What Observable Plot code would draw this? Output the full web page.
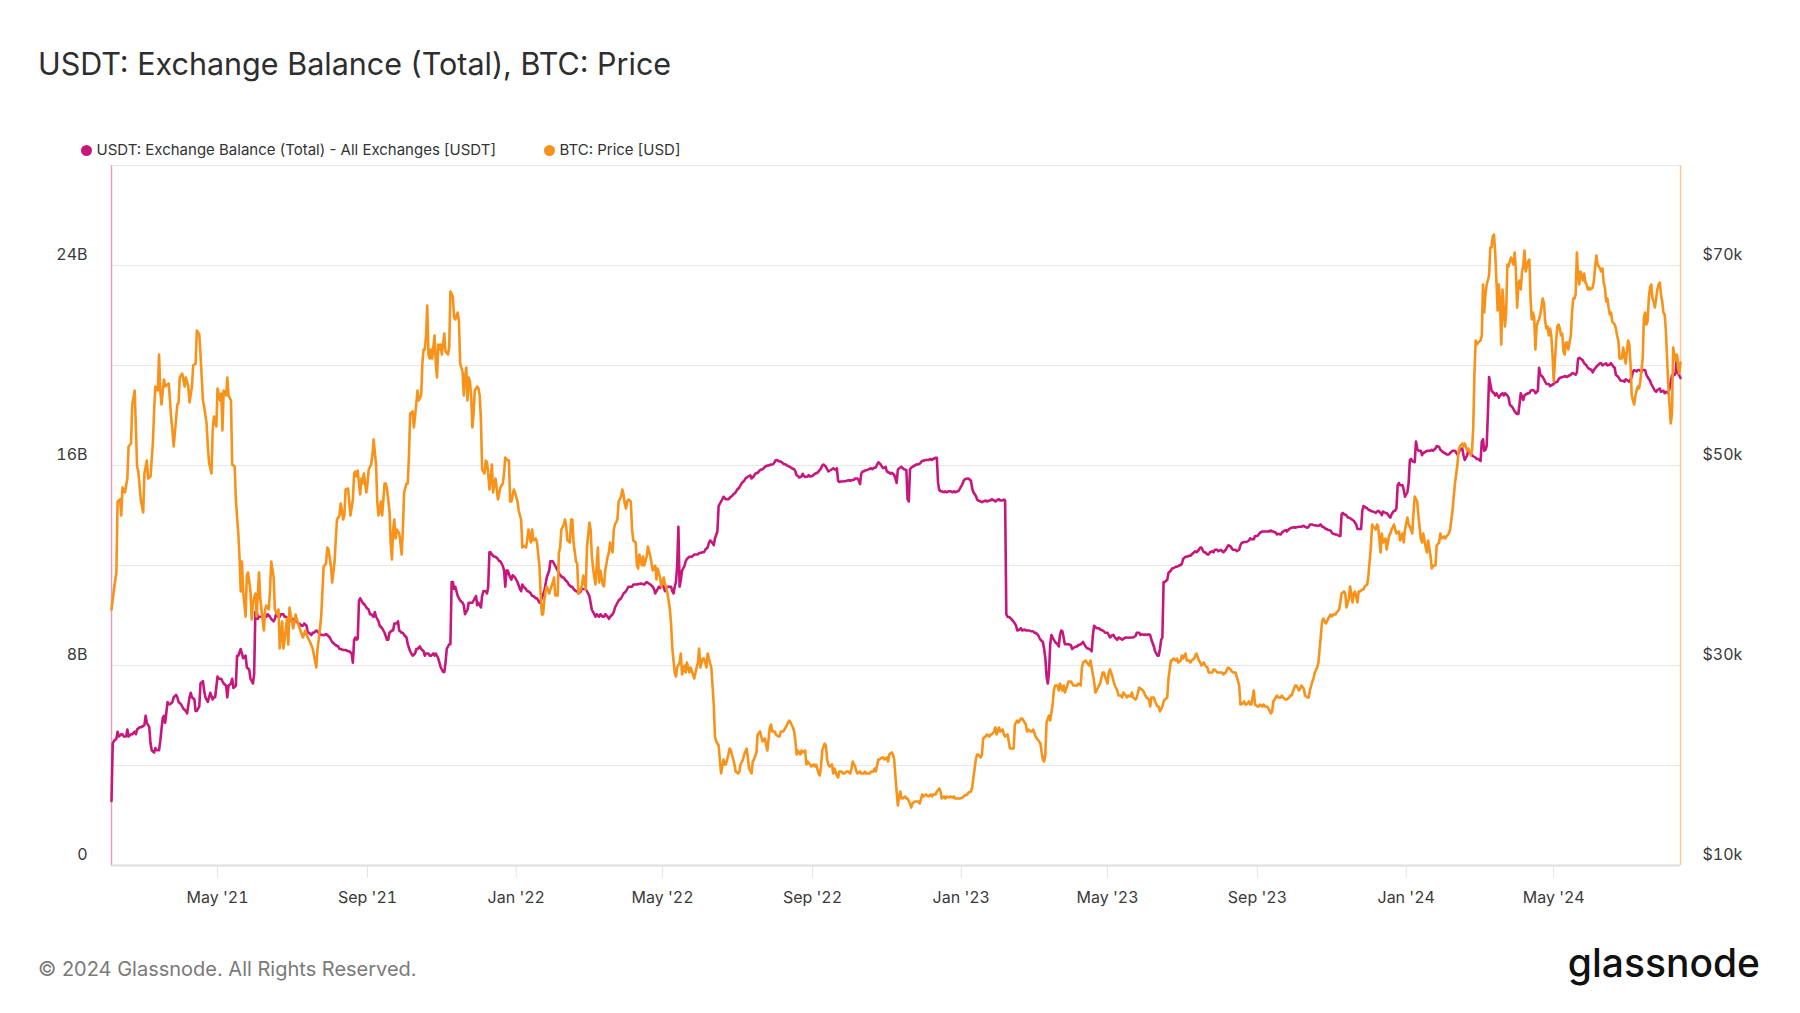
<!DOCTYPE html>
<html>
<head>
<meta charset="utf-8">
<script src="https://cdn.jsdelivr.net/npm/d3@7"></script>
<script src="https://cdn.jsdelivr.net/npm/@observablehq/plot@0.6"></script>
<style>
  html, body { margin: 0; padding: 0; background: #ffffff; }
  #page { position: relative; width: 1800px; height: 1013px; overflow: hidden; font-family: Inter, "Noto Sans", sans-serif; background: #fff; }
  #title { position: absolute; left: 38px; top: 45px; font-size: 30.5px; line-height: 38px; color: #2e2e2e; font-weight: 400; white-space: nowrap; }
  .legend-item { position: absolute; top: 140px; height: 20px; line-height: 20px; font-size: 15px; color: #333; white-space: nowrap; }
  .legend-item .dot { position: absolute; left: 0; top: 4.5px; width: 11px; height: 11px; border-radius: 50%; }
  .legend-item .label { position: absolute; left: 16px; top: 0; }
  #chart { position: absolute; left: 0; top: 130px; }
  #footer { position: absolute; left: 38px; top: 956px; font-size: 20px; line-height: 26px; color: #7a7a7a; white-space: nowrap; }
  #logo { position: absolute; right: 40px; top: 938px; font-size: 39px; line-height: 50px; font-weight: 500; color: #111; letter-spacing: 0px; white-space: nowrap; }
</style>
</head>
<body>
<div id="page">
  <div id="title"></div>
  <div id="legend"></div>
  <div id="chart"></div>
  <div id="footer"></div>
  <div id="logo"></div>
</div>
<script>
// ---------------- data ----------------
const titleText = "USDT: Exchange Balance (Total), BTC: Price";
const seriesNames = ["USDT: Exchange Balance (Total) - All Exchanges [USDT]", "BTC: Price [USD]"];
const seriesColors = ["#c5177c", "#f7931a"];
const footerText = "© 2024 Glassnode. All Rights Reserved.";
const logoText = "glassnode";

const startDate = "2021-02-03";   // day 0
const endDay = 1287;              // 2024-08-13

// [days since startDate, USDT exchange balance in billions]
const usdtSeries = [[0,2.58],[1,4.88],[2,4.98],[4,5.07],[5,5.35],[6,5.16],[8,5.25],[9,5.25],[10,5.16],[12,5.16],[13,5.44],[14,5.16],[16,5.25],[17,5.25],[19,5.35],[20,5.25],[21,5.44],[23,5.53],[24,5.53],[26,5.58],[27,5.62],[28,5.99],[29,5.71],[31,5.53],[32,4.88],[33,4.61],[35,4.52],[36,4.70],[37,4.61],[39,4.61],[40,4.98],[42,5.90],[43,5.99],[44,5.71],[46,6.54],[47,6.45],[48,6.45],[50,6.54],[51,6.73],[53,6.82],[54,6.73],[55,6.54],[57,6.45],[58,6.36],[59,6.27],[61,6.18],[62,6.08],[64,6.73],[65,6.91],[66,6.73],[68,6.64],[69,6.18],[70,6.18],[72,6.36],[73,7.28],[75,7.37],[76,7.00],[77,6.73],[79,6.54],[80,6.73],[81,6.91],[83,6.64],[84,6.73],[85,6.73],[87,7.56],[88,7.47],[90,7.47],[91,7.37],[92,7.28],[94,7.19],[95,6.73],[96,7.19],[98,7.28],[99,7.47],[100,7.10],[102,7.19],[103,8.39],[104,8.39],[106,8.66],[107,8.48],[108,8.29],[110,8.39],[111,7.93],[113,7.83],[114,7.47],[116,7.28],[117,7.65],[118,10.14],[119,10.23],[120,9.86],[121,9.95],[123,9.95],[124,9.95],[126,10.05],[127,9.95],[128,10.05],[130,9.95],[131,9.86],[133,9.77],[134,9.86],[135,10.05],[137,9.95],[138,9.95],[139,10.05],[141,10.05],[142,9.95],[143,9.95],[145,9.86],[146,9.77],[147,9.86],[149,9.86],[150,9.77],[152,9.77],[153,9.68],[154,9.68],[156,9.59],[157,9.59],[158,9.68],[160,9.59],[161,9.31],[162,9.31],[164,9.22],[165,9.31],[166,9.31],[168,9.40],[169,9.36],[170,9.31],[172,9.22],[173,9.22],[175,9.22],[176,9.26],[177,9.22],[179,9.12],[180,9.03],[181,8.94],[183,8.85],[184,8.81],[186,8.76],[187,8.66],[188,8.66],[190,8.62],[191,8.62],[192,8.62],[194,8.57],[195,8.57],[197,8.48],[198,8.11],[199,9.03],[200,9.12],[201,9.03],[202,9.08],[203,10.60],[204,10.69],[205,10.60],[206,10.51],[208,10.41],[209,10.32],[211,10.23],[212,10.05],[213,10.05],[215,9.95],[216,10.14],[217,9.95],[219,9.77],[220,9.59],[222,9.49],[223,9.40],[224,9.31],[226,9.03],[227,9.03],[228,9.31],[230,9.40],[231,9.40],[232,9.68],[234,9.68],[235,9.77],[236,9.40],[238,9.31],[239,9.31],[240,9.22],[242,9.12],[243,8.85],[245,8.57],[246,8.48],[247,8.39],[249,8.48],[250,8.66],[251,8.66],[253,8.76],[254,8.66],[256,8.57],[257,8.39],[258,8.48],[260,8.48],[261,8.39],[262,8.39],[264,8.48],[265,8.39],[266,8.48],[268,8.29],[269,8.11],[270,7.93],[272,7.74],[273,7.74],[274,8.11],[275,8.66],[277,8.85],[278,8.85],[279,11.34],[280,11.34],[281,11.06],[282,11.15],[284,10.78],[285,10.69],[286,10.60],[288,10.51],[289,10.41],[290,10.05],[292,10.23],[293,10.51],[294,10.51],[296,10.51],[297,10.60],[299,10.78],[300,10.41],[301,10.51],[303,10.32],[304,10.78],[305,10.97],[307,10.97],[308,10.88],[309,11.15],[310,12.53],[311,12.53],[312,12.44],[314,12.35],[315,12.35],[317,12.26],[318,12.17],[319,12.17],[321,11.98],[322,11.80],[323,11.15],[324,11.80],[325,11.80],[327,11.52],[328,11.43],[329,11.61],[331,11.52],[332,11.43],[333,11.34],[335,11.06],[336,10.97],
[337,11.24],[338,11.15],[340,11.06],[341,10.97],[342,10.97],[344,10.88],[345,10.78],[346,10.78],[348,10.69],[349,10.69],[351,10.51],[352,10.60],[353,10.69],[355,10.97],[356,11.24],[357,11.52],[359,11.80],[360,12.17],[362,12.17],[363,12.07],[364,11.98],[366,11.80],[367,11.70],[368,11.61],[370,11.52],[371,11.52],[372,11.43],[374,11.34],[375,11.24],[377,11.15],[378,11.15],[379,11.06],[381,10.97],[382,10.97],[383,10.88],[385,10.97],[386,11.06],[387,11.06],[389,11.06],[390,10.97],[392,10.78],[393,10.51],[394,10.23],[396,10.05],[397,9.95],[398,10.05],[400,9.95],[401,10.05],[403,9.95],[404,9.95],[405,10.05],[407,9.95],[408,9.86],[409,9.95],[411,10.05],[412,10.14],[413,10.32],[415,10.51],[416,10.60],[418,10.69],[419,10.78],[420,10.88],[422,10.97],[423,11.06],[424,11.15],[426,11.15],[427,11.15],[428,11.24],[431,11.24],[434,11.28],[437,11.24],[439,11.34],[442,11.24],[444,11.15],[445,11.06],[446,10.88],[447,10.97],[448,11.06],[449,11.15],[450,11.10],[452,11.21],[453,11.15],[454,10.97],[456,11.15],[457,11.15],[459,11.15],[460,10.97],[461,10.88],[462,11.15],[463,11.34],[464,11.98],[465,13.55],[466,11.15],[467,11.43],[468,11.80],[470,11.98],[471,12.17],[472,12.26],[474,12.35],[475,12.35],[476,12.35],[478,12.44],[479,12.44],[481,12.44],[482,12.50],[483,12.50],[485,12.53],[486,12.53],[487,12.63],[489,12.72],[490,12.90],[491,13.00],[493,12.90],[494,12.81],[495,13.09],[497,13.36],[498,14.38],[500,14.56],[501,14.65],[502,14.75],[504,14.65],[505,14.65],[506,14.65],[508,14.75],[509,14.78],[510,14.84],[512,14.93],[513,15.02],[515,15.12],[516,15.21],[517,15.30],[519,15.39],[520,15.48],[521,15.52],[523,15.58],[524,15.61],[525,15.48],[527,15.58],[528,15.67],[530,15.71],[531,15.76],[532,15.82],[534,15.85],[535,15.89],[536,15.95],[538,16.00],[539,16.00],[541,16.04],[542,16.04],[543,16.07],[545,16.22],[546,16.22],[547,16.18],[549,16.15],[550,16.13],[551,16.07],[553,16.04],[554,16.00],[556,15.96],[557,15.93],[558,15.89],[560,15.85],[561,15.76],[562,15.61],[563,15.58],[564,15.52],[566,15.56],[567,15.67],[568,15.58],[569,15.54],[571,15.56],[572,15.61],[573,15.56],[575,15.58],[576,15.63],[577,15.67],[579,15.71],[580,15.76],[582,15.89],[583,16.00],[584,16.04],[586,15.95],[587,15.85],[588,15.76],[590,15.82],[591,15.85],[592,15.89],[594,15.82],[595,15.89],[596,15.39],[597,15.34],[598,15.36],[599,15.36],[601,15.37],[602,15.37],[603,15.39],[605,15.41],[606,15.39],[607,15.41],[609,15.43],[610,15.48],[612,15.48],[613,15.39],[614,15.26],[615,15.67],[616,15.76],[617,15.76],[618,15.80],[620,15.82],[621,15.85],[623,15.89],[624,15.85],[625,15.89],[627,15.93],[628,16.04],[629,16.13],[631,16.04],[632,15.95],[633,15.89],[635,15.95],[636,15.76],[638,15.71],[639,15.67],[640,15.71],[642,15.63],[643,15.48],[644,15.30],[645,15.82],[646,15.89],[648,15.95],[649,15.89],[650,15.85],[652,15.82],[653,14.65],[654,14.56],[655,15.85],[656,15.91],[657,15.95],[659,16.00],[660,16.04],[661,16.04],[663,16.07],
[665,16.19],[666,16.19],[668,16.22],[669,16.22],[670,16.22],[672,16.26],[673,16.22],[674,16.26],[676,16.31],[677,16.31],[678,15.30],[679,15.02],[680,14.97],[681,14.97],[683,14.93],[684,14.97],[685,14.93],[687,14.97],[688,14.97],[690,14.93],[691,14.97],[692,14.93],[694,14.97],[695,14.99],[696,15.08],[698,15.26],[699,15.39],[700,15.45],[702,15.48],[703,15.48],[705,15.39],[706,15.08],[707,14.93],[709,14.78],[710,14.65],[711,14.60],[713,14.56],[714,14.53],[715,14.56],[717,14.60],[718,14.56],[720,14.60],[721,14.60],[722,14.65],[724,14.60],[725,14.56],[726,14.60],[728,14.65],[729,14.60],[731,14.60],[732,14.64],[733,14.60],[734,10.05],[735,9.95],[737,9.92],[738,9.86],[739,9.81],[741,9.68],[742,9.59],[743,9.40],[745,9.44],[746,9.49],[747,9.40],[749,9.44],[750,9.40],[752,9.40],[753,9.40],[754,9.37],[756,9.37],[757,9.31],[758,9.31],[760,9.22],[761,9.12],[762,9.03],[764,8.94],[765,8.66],[766,8.29],[767,7.56],[768,7.28],[769,7.74],[770,8.85],[771,9.22],[772,9.12],[773,9.03],[774,8.94],[776,8.85],[777,8.76],[778,9.22],[779,9.40],[780,9.37],[781,9.12],[782,8.85],[784,8.85],[785,8.85],[787,8.81],[788,8.66],[789,8.70],[791,8.76],[792,8.76],[793,8.81],[795,8.85],[796,8.89],[797,8.94],[799,8.76],[800,8.70],[802,8.66],[803,8.63],[804,8.57],[805,9.22],[806,9.59],[807,9.55],[808,9.49],[810,9.49],[811,9.44],[813,9.40],[814,9.37],[815,9.31],[817,9.31],[818,9.22],[819,9.12],[821,9.22],[822,9.22],[823,9.12],[825,9.03],[826,9.12],[828,9.07],[829,9.03],[830,9.07],[832,9.12],[833,9.12],[834,9.11],[836,9.12],[837,9.12],[838,9.12],[840,9.18],[841,9.31],[843,9.31],[844,9.22],[845,9.25],[847,9.22],[848,9.25],[849,9.22],[851,9.25],[852,9.22],[853,9.03],[855,8.76],[856,8.57],[858,8.39],[859,8.39],[860,8.66],[861,9.03],[862,9.12],[863,11.34],[864,11.34],[866,11.43],[867,11.70],[869,11.80],[870,11.89],[871,11.89],[873,11.95],[874,11.95],[875,11.98],[877,12.02],[878,12.07],[879,12.26],[881,12.35],[882,12.35],[884,12.39],[885,12.39],[886,12.44],[888,12.53],[889,12.57],[890,12.53],[892,12.63],[893,12.72],[894,12.72],[896,12.53],[897,12.53],[899,12.44],[900,12.44],[901,12.53],[903,12.57],[904,12.53],[905,12.63],[907,12.63],[908,12.57],[910,12.63],[911,12.57],[912,12.53],[914,12.63],[915,12.72],[916,12.81],[918,12.76],[919,12.68],[920,12.63],[922,12.63],[923,12.57],[925,12.63],[926,12.81],[927,12.90],[929,12.94],[930,12.94],[931,12.94],[933,13.00],[934,13.09],[935,13.05],[937,13.05],[938,13.18],[940,13.18],[941,13.24],[942,13.31],[944,13.36],[945,13.36],[946,13.36],[948,13.36],[949,13.36],[951,13.40],[952,13.36],[953,13.36],[955,13.31],[956,13.24],[957,13.27],[959,13.24],[960,13.31],[961,13.36],[963,13.42],[964,13.36],[966,13.46],[967,13.49],[968,13.51],[970,13.53],[971,13.51],[972,13.53],[974,13.55],[975,13.55],[976,13.55],[978,13.59],[979,13.55],[981,13.51],[982,13.55],[983,13.64],[985,13.64],[986,13.61],[987,13.61],[989,13.59],[990,13.59],[992,13.64],
[993,13.55],[994,13.55],[996,13.46],[997,13.46],[998,13.42],[1000,13.40],[1001,13.31],[1002,13.27],[1004,13.24],[1005,13.24],[1007,13.18],[1008,13.18],[1009,14.05],[1010,14.10],[1011,14.05],[1013,14.01],[1014,13.92],[1015,13.92],[1017,13.86],[1018,13.82],[1019,13.79],[1021,13.64],[1022,13.46],[1024,13.46],[1025,13.46],[1026,14.19],[1027,14.38],[1028,14.34],[1030,14.29],[1031,14.23],[1033,14.19],[1034,14.16],[1035,14.16],[1037,14.10],[1038,14.16],[1039,14.19],[1041,14.10],[1042,14.01],[1043,14.16],[1045,14.10],[1046,14.10],[1048,13.97],[1049,13.92],[1050,14.05],[1052,14.19],[1053,14.19],[1054,14.29],[1055,15.21],[1056,15.30],[1057,15.21],[1059,15.21],[1060,15.02],[1061,14.75],[1063,14.93],[1064,15.30],[1065,16.22],[1066,16.26],[1067,16.18],[1069,16.13],[1070,16.96],[1071,16.68],[1072,16.59],[1074,16.59],[1075,16.41],[1076,16.50],[1078,16.55],[1079,16.59],[1080,16.59],[1082,16.59],[1083,16.63],[1084,16.59],[1086,16.68],[1087,16.78],[1089,16.74],[1090,16.63],[1091,16.59],[1093,16.50],[1094,16.50],[1095,16.44],[1097,16.44],[1098,16.50],[1100,16.59],[1101,16.59],[1102,16.59],[1104,16.44],[1105,16.50],[1106,16.63],[1108,16.68],[1109,16.41],[1110,16.22],[1112,16.41],[1113,16.59],[1115,16.50],[1116,16.41],[1117,16.37],[1119,16.31],[1120,16.26],[1121,16.26],[1123,16.18],[1124,16.96],[1125,17.05],[1126,16.59],[1127,16.63],[1128,16.78],[1129,18.06],[1130,19.54],[1131,19.26],[1132,18.99],[1134,18.89],[1135,18.80],[1136,18.89],[1138,18.71],[1139,18.80],[1141,18.89],[1142,18.80],[1143,18.89],[1145,18.80],[1146,18.71],[1147,18.43],[1149,18.34],[1150,18.25],[1151,18.16],[1153,18.06],[1154,18.06],[1156,18.89],[1158,18.62],[1159,18.80],[1160,18.84],[1162,18.89],[1163,18.89],[1164,18.99],[1166,19.02],[1167,18.99],[1168,18.89],[1170,18.99],[1171,19.91],[1172,19.63],[1174,19.54],[1175,19.45],[1176,19.35],[1177,19.26],[1179,19.26],[1180,19.17],[1181,19.21],[1183,19.26],[1184,19.32],[1186,19.35],[1187,19.45],[1188,19.50],[1190,19.54],[1191,19.54],[1192,19.58],[1194,19.54],[1195,19.58],[1197,19.63],[1198,19.69],[1199,19.69],[1201,19.63],[1202,19.72],[1203,20.28],[1204,20.31],[1206,20.24],[1207,20.19],[1208,20.09],[1210,20.00],[1211,19.91],[1212,19.87],[1214,19.82],[1215,19.72],[1216,19.82],[1218,19.95],[1219,20.00],[1221,20.09],[1222,20.09],[1223,20.00],[1225,20.06],[1226,20.09],[1227,20.00],[1229,20.04],[1230,20.09],[1232,19.95],[1233,19.91],[1234,19.63],[1236,19.54],[1237,19.45],[1238,19.39],[1240,19.39],[1241,19.35],[1242,19.45],[1244,19.39],[1245,19.35],[1247,19.54],[1248,19.76],[1249,19.82],[1251,19.76],[1252,19.82],[1253,19.82],[1255,19.76],[1256,19.82],[1258,19.82],[1259,19.63],[1260,19.54],[1262,19.39],[1263,19.26],[1264,19.17],[1266,18.99],[1267,18.95],[1268,19.02],[1270,19.08],[1271,18.95],[1273,18.99],[1274,18.89],[1275,18.95],[1277,18.89],[1278,19.08],[1279,19.35],[1280,19.60],[1282,19.62],[1283,19.70],[1284,20.40],[1285,19.70],[1286,19.60],[1287,19.50]];

// [days since startDate, BTC price in thousands of USD]
const btcSeries = [[0,35.6],[2,37.6],[4,39.3],[5,46.4],[7,46.6],[8,45.0],[9,47.8],[11,47.3],[13,48.7],[14,51.9],[16,52.2],[17,56.1],[19,57.5],[20,53.8],[21,49.9],[22,49.4],[24,46.6],[26,45.3],[27,49.2],[29,50.5],[30,48.7],[32,48.9],[34,52.4],[35,55.6],[36,57.9],[38,57.5],[39,61.1],[40,57.5],[41,56.1],[43,58.6],[44,57.9],[47,58.2],[49,54.7],[50,53.5],[51,51.9],[53,54.7],[54,56.1],[55,56.3],[56,58.8],[58,59.2],[60,57.9],[61,58.8],[63,57.9],[64,56.3],[66,57.9],[67,60.0],[69,60.2],[70,63.5],[72,63.1],[73,61.1],[75,56.5],[76,55.9],[78,54.2],[79,51.9],[80,50.3],[82,49.2],[83,53.5],[84,54.9],[86,53.9],[87,57.7],[89,56.5],[90,57.2],[91,53.5],[92,57.5],[94,57.0],[95,58.8],[96,57.0],[98,56.5],[99,50.1],[101,49.9],[102,46.6],[104,43.2],[105,40.9],[106,37.4],[107,40.4],[108,37.4],[110,34.9],[111,39.0],[112,39.3],[114,37.4],[115,34.6],[116,36.3],[118,37.2],[119,34.9],[121,39.3],[122,36.7],[123,35.6],[125,33.5],[126,35.6],[127,36.0],[129,35.6],[130,37.4],[131,40.4],[133,38.8],[134,35.6],[136,35.1],[137,35.6],[138,31.7],[140,34.4],[141,31.7],[142,32.6],[144,34.7],[145,32.1],[146,35.8],[148,34.4],[149,33.7],[151,35.1],[153,34.2],[155,33.5],[157,32.8],[159,33.5],[161,32.8],[163,32.3],[165,31.7],[168,29.8],[169,31.7],[170,32.6],[172,34.9],[173,37.4],[174,39.9],[176,40.2],[177,41.8],[178,41.6],[180,39.9],[181,38.3],[183,40.4],[184,42.7],[185,44.6],[187,45.0],[188,46.2],[189,45.5],[190,44.6],[191,45.0],[192,47.6],[194,47.7],[195,46.4],[196,45.0],[198,46.6],[199,49.2],[200,49.4],[201,48.9],[202,49.5],[203,48.2],[204,47.1],[205,48.7],[206,48.2],[207,49.2],[209,47.3],[210,48.2],[211,49.6],[213,50.1],[214,51.0],[215,52.6],[217,50.1],[218,46.4],[219,45.0],[220,45.5],[221,46.4],[222,45.0],[224,48.2],[225,48.2],[226,47.6],[228,45.5],[229,42.3],[230,40.6],[231,43.6],[232,44.6],[233,42.7],[234,43.6],[236,43.2],[237,42.3],[238,41.1],[239,43.6],[240,47.3],[242,48.2],[243,48.2],[244,51.0],[245,55.2],[247,55.4],[248,53.8],[249,54.9],[251,57.5],[252,56.5],[254,57.0],[255,60.2],[256,61.6],[257,61.6],[258,63.0],[259,66.0],[260,61.1],[261,60.7],[262,61.6],[263,60.7],[265,63.0],[266,60.2],[267,58.8],[268,62.1],[269,61.6],[270,62.1],[271,61.1],[273,63.2],[274,61.4],[276,61.1],[277,61.8],[278,67.4],[280,66.9],[281,64.8],[282,64.6],[284,65.3],[285,64.4],[286,60.2],[288,59.3],[289,57.0],[290,58.8],[291,59.8],[292,56.5],[293,58.8],[294,58.4],[295,57.0],[296,53.8],[297,55.2],[298,57.5],[300,57.9],[301,57.7],[302,57.0],[303,54.7],[304,49.6],[306,49.2],[307,50.5],[308,50.3],[309,49.2],[310,47.6],[311,48.7],[312,50.1],[313,47.3],[314,48.2],[315,48.7],[317,46.6],[319,47.8],[321,48.2],[322,49.2],[323,50.8],[325,50.5],[326,50.5],[327,46.4],[328,46.4],[330,47.6],[331,47.3],[333,46.4],[334,45.5],[336,44.6],
[337,41.8],[338,42.0],[340,41.8],[341,42.5],[342,43.6],[344,42.3],[345,43.6],[346,42.5],[348,42.7],[349,42.3],[351,40.0],[352,37.2],[353,35.1],[354,35.1],[355,36.5],[356,37.4],[357,37.9],[359,37.2],[360,37.6],[362,38.3],[363,38.8],[364,37.0],[366,37.0],[367,41.3],[368,41.8],[369,43.6],[371,44.1],[372,44.6],[373,43.9],[374,42.5],[376,42.3],[377,44.6],[378,44.6],[379,42.3],[381,40.4],[382,40.2],[383,37.2],[385,37.6],[386,38.1],[387,39.0],[389,37.6],[390,41.8],[392,44.3],[393,43.6],[394,40.9],[396,38.8],[397,38.1],[398,40.0],[399,41.8],[400,38.3],[401,39.5],[403,38.1],[404,37.9],[405,39.5],[407,40.9],[408,41.3],[409,42.3],[411,41.3],[412,43.6],[413,44.1],[415,44.6],[416,46.4],[418,46.9],[419,47.6],[420,47.1],[421,46.2],[422,45.7],[423,46.4],[424,46.6],[426,46.4],[427,43.6],[428,42.5],[430,42.3],[431,40.0],[432,39.7],[433,41.1],[435,40.0],[436,40.9],[437,40.0],[439,40.9],[440,41.9],[442,40.9],[443,40.2],[444,39.5],[446,40.0],[447,38.6],[448,39.7],[450,38.8],[451,37.9],[453,38.8],[454,38.1],[455,37.9],[457,36.5],[458,35.6],[459,34.2],[460,31.7],[462,29.3],[463,28.9],[464,29.8],[466,30.3],[467,31.2],[468,29.1],[470,30.0],[471,29.3],[472,30.3],[474,29.3],[475,29.8],[477,29.1],[478,28.7],[479,29.3],[481,30.3],[482,31.7],[483,29.8],[485,30.7],[486,30.7],[488,29.8],[489,31.2],[490,30.7],[492,29.8],[493,28.0],[494,26.1],[495,22.9],[496,22.4],[498,22.0],[499,20.6],[500,19.2],[502,20.6],[503,20.1],[504,20.1],[506,21.1],[507,21.7],[508,21.5],[510,20.6],[511,20.1],[512,19.4],[514,19.2],[515,19.4],[516,20.1],[518,20.6],[519,21.1],[521,21.7],[522,20.8],[523,19.7],[525,19.2],[526,20.4],[527,20.6],[529,21.3],[530,23.1],[532,23.4],[533,22.9],[534,22.4],[536,22.7],[537,22.0],[538,21.5],[540,23.8],[541,24.1],[542,23.4],[544,23.4],[545,23.1],[547,22.9],[548,22.9],[549,23.4],[551,23.4],[552,23.6],[553,23.8],[555,24.3],[556,24.5],[557,24.3],[559,23.8],[560,23.4],[561,22.4],[562,21.1],[563,21.5],[565,21.1],[566,21.5],[567,21.3],[569,21.5],[570,20.1],[571,20.4],[573,20.1],[574,19.9],[576,20.1],[577,19.9],[578,20.1],[580,19.2],[581,19.0],[582,19.9],[583,21.5],[585,22.2],[586,22.0],[587,20.6],[588,20.1],[589,19.9],[591,20.1],[592,19.2],[593,19.7],[595,19.0],[596,18.8],[597,19.4],[599,19.4],[600,19.2],[601,19.2],[603,19.4],[604,19.4],[606,19.2],[607,19.7],[608,20.4],[610,19.9],[611,19.4],[612,19.2],[614,19.4],[615,19.2],[617,19.2],[618,19.4],[619,19.2],[621,19.2],[622,19.2],[623,19.4],[625,19.4],[626,19.7],[627,19.4],[629,20.6],[630,20.6],[632,20.8],[633,20.8],[634,20.6],[636,20.8],[637,20.4],[638,21.1],[640,21.3],[641,21.1],[642,20.6],[644,17.4],[645,16.0],[646,16.9],[647,17.4],[648,16.7],[649,16.7],[651,16.9],[652,16.7],[653,16.7],[655,16.2],[656,15.8],[657,16.2],[659,16.4],[660,16.4],[662,16.4],[663,16.2],
[665,17.1],[666,16.9],[668,17.1],[669,17.0],[670,16.9],[672,17.1],[673,16.9],[674,17.1],[676,17.1],[677,17.4],[679,17.7],[680,17.4],[681,16.7],[683,16.9],[684,16.7],[685,16.9],[687,16.8],[688,16.9],[690,16.8],[691,16.9],[692,16.7],[694,16.7],[695,16.7],[696,16.7],[698,16.8],[699,16.9],[700,17.0],[702,17.1],[703,17.3],[705,17.4],[706,17.8],[707,18.8],[709,20.6],[710,21.1],[711,21.1],[713,20.8],[714,21.1],[715,22.7],[717,22.9],[718,23.1],[720,22.9],[721,23.1],[722,23.1],[724,23.4],[725,23.8],[726,23.1],[728,23.8],[729,23.4],[731,23.6],[732,23.1],[733,22.9],[735,23.1],[736,22.4],[737,21.7],[739,21.7],[740,21.7],[741,24.1],[743,24.5],[744,24.3],[746,24.7],[747,24.7],[748,24.5],[750,24.1],[751,23.4],[752,23.6],[754,23.4],[755,23.4],[756,23.6],[758,22.9],[759,22.7],[761,22.4],[762,22.2],[763,21.3],[764,20.6],[765,20.4],[766,21.1],[767,24.3],[769,25.0],[770,24.5],[772,26.1],[773,27.5],[774,28.0],[776,28.0],[777,27.5],[778,28.2],[780,27.5],[781,28.0],[782,27.3],[784,28.0],[785,28.4],[787,28.4],[788,28.2],[789,28.0],[791,28.0],[792,28.0],[793,28.2],[795,28.0],[796,29.8],[797,30.3],[799,30.5],[800,30.3],[802,30.0],[803,30.5],[804,29.8],[806,28.4],[807,27.3],[808,27.5],[810,28.0],[811,28.2],[813,29.3],[814,29.3],[815,28.9],[817,28.2],[818,29.3],[819,29.6],[821,28.9],[822,28.4],[823,28.0],[825,27.5],[826,27.0],[828,27.0],[829,26.8],[830,27.3],[832,27.0],[833,26.8],[834,27.0],[836,26.9],[837,27.3],[838,26.8],[840,26.6],[841,26.8],[843,27.8],[844,27.7],[846,27.5],[847,27.3],[848,27.0],[849,26.8],[851,26.6],[852,25.9],[853,26.8],[854,26.8],[855,26.8],[856,26.4],[858,25.9],[859,25.9],[860,25.4],[862,25.9],[863,26.4],[864,26.6],[866,26.8],[867,28.7],[869,30.5],[870,30.5],[871,30.7],[873,30.5],[874,30.7],[875,30.3],[877,30.5],[878,31.0],[879,30.7],[881,31.2],[882,30.5],[884,30.5],[885,30.3],[886,30.5],[888,30.7],[889,31.0],[890,31.2],[892,30.5],[893,30.3],[894,30.0],[896,30.3],[897,30.0],[899,29.8],[900,29.3],[901,29.3],[903,29.3],[904,29.6],[905,29.6],[907,29.3],[908,29.3],[910,29.3],[911,29.3],[912,29.1],[914,29.3],[915,29.6],[916,29.8],[918,29.6],[919,29.4],[920,29.3],[922,29.3],[923,28.9],[925,28.0],[926,26.1],[927,26.1],[929,26.4],[930,26.1],[931,26.1],[933,26.4],[934,26.1],[935,26.1],[937,27.5],[938,26.1],[940,25.9],[941,25.9],[942,26.1],[944,25.9],[945,26.1],[946,25.9],[948,25.9],[949,25.7],[951,25.2],[952,25.4],[953,26.4],[955,26.8],[956,27.0],[957,26.8],[959,26.8],[960,27.0],[961,26.8],[963,26.6],[964,26.6],[966,26.8],[967,27.0],[968,27.0],[970,27.7],[971,28.0],[972,28.0],[974,27.5],[975,27.7],[976,28.0],[978,27.7],[979,27.0],[981,26.8],[982,26.8],[983,27.5],[985,28.4],[986,28.7],[987,29.3],[989,29.8],[990,30.3],[992,33.0],
[993,34.4],[994,34.7],[996,34.2],[997,34.4],[998,34.7],[1000,35.1],[1001,34.9],[1002,35.1],[1004,35.1],[1005,35.3],[1007,35.6],[1008,36.3],[1009,37.2],[1011,37.4],[1012,37.2],[1013,35.8],[1015,36.7],[1016,37.9],[1018,36.3],[1019,37.2],[1020,37.4],[1022,36.3],[1023,37.4],[1024,37.4],[1026,37.6],[1027,37.6],[1028,37.9],[1030,38.1],[1031,39.0],[1033,41.8],[1034,44.1],[1035,43.9],[1037,43.6],[1038,44.1],[1039,43.9],[1041,41.3],[1042,43.2],[1043,42.3],[1045,42.7],[1046,41.6],[1048,43.0],[1049,43.2],[1050,43.6],[1052,44.1],[1053,43.6],[1054,43.2],[1056,43.4],[1057,42.5],[1059,43.2],[1060,42.3],[1061,43.6],[1063,44.8],[1064,44.1],[1065,43.9],[1067,43.2],[1068,45.3],[1069,46.9],[1071,46.4],[1072,45.0],[1074,42.7],[1075,42.3],[1076,43.2],[1078,41.8],[1079,41.3],[1080,42.5],[1082,40.9],[1083,39.7],[1084,40.0],[1086,40.0],[1087,42.0],[1089,42.3],[1090,43.2],[1091,42.7],[1093,42.9],[1094,42.7],[1095,42.9],[1097,43.2],[1098,43.6],[1100,45.5],[1101,46.9],[1102,48.2],[1104,50.1],[1105,51.5],[1106,51.9],[1108,52.2],[1109,51.9],[1110,52.2],[1112,51.5],[1113,51.7],[1115,51.0],[1116,51.5],[1117,53.8],[1118,59.3],[1119,62.5],[1120,62.1],[1121,62.3],[1123,62.5],[1124,63.0],[1125,68.1],[1126,65.3],[1127,67.1],[1128,68.1],[1130,69.0],[1131,71.8],[1132,71.8],[1133,72.9],[1134,73.1],[1135,71.3],[1136,68.5],[1137,65.5],[1138,68.1],[1139,66.2],[1140,62.1],[1141,67.6],[1142,65.8],[1143,63.9],[1144,65.3],[1145,70.1],[1146,69.9],[1147,70.4],[1148,70.8],[1150,70.1],[1151,71.3],[1152,69.4],[1153,65.8],[1154,68.1],[1155,68.5],[1156,67.6],[1157,69.4],[1158,69.9],[1159,71.5],[1160,69.4],[1162,70.4],[1163,70.6],[1164,66.7],[1165,64.6],[1166,65.3],[1167,64.8],[1168,61.6],[1169,63.9],[1170,64.4],[1171,64.6],[1172,65.1],[1174,66.7],[1175,66.2],[1176,64.4],[1177,63.7],[1178,63.9],[1179,63.0],[1180,63.7],[1181,63.0],[1182,61.1],[1183,58.4],[1185,62.5],[1186,63.9],[1187,64.1],[1188,63.7],[1189,63.0],[1190,63.2],[1191,61.4],[1192,61.1],[1193,62.3],[1194,62.3],[1195,61.6],[1197,63.0],[1198,65.3],[1199,66.7],[1200,66.7],[1201,67.1],[1202,71.3],[1203,69.0],[1204,68.1],[1205,69.4],[1206,69.0],[1207,68.5],[1208,69.2],[1209,68.3],[1210,68.1],[1211,67.6],[1212,67.8],[1213,67.6],[1215,67.8],[1216,68.5],[1217,69.9],[1218,71.0],[1219,70.1],[1221,69.7],[1222,69.4],[1223,69.7],[1224,68.3],[1225,67.8],[1226,66.4],[1227,66.7],[1228,65.8],[1229,65.1],[1230,65.3],[1231,64.4],[1233,64.1],[1234,63.7],[1235,63.0],[1236,62.5],[1237,60.7],[1238,60.7],[1239,60.7],[1240,61.8],[1241,61.1],[1242,60.2],[1244,62.5],[1245,62.1],[1246,60.2],[1247,57.0],[1248,56.5],[1249,56.1],[1250,57.0],[1251,57.5],[1252,57.9],[1253,57.7],[1254,58.4],[1256,60.7],[1257,64.8],[1258,65.3],[1259,64.1],[1260,64.4],[1261,66.7],[1262,67.8],[1263,68.1],[1264,66.7],[1265,66.4],[1266,65.8],[1268,67.6],[1269,68.1],[1270,68.3],[1271,67.1],[1272,66.4],[1273,65.3],[1274,65.1],[1275,63.5],[1276,60.7],[1277,57.9],[1279,54.2],[1280,55.2],[1281,61.8],[1282,61.0],[1283,60.5],[1284,61.1],[1285,59.8],[1286,59.2],[1287,60.3]];

// axes
const balanceDomain = [0, 28];          // billions USDT (left)
const priceDomain = [10, 80];           // thousands USD (right)
const balanceTicks = [0, 8, 16, 24];
const gridLines = [4, 8, 12, 16, 20, 24, 28];
const priceTicks = [10, 30, 50, 70];
const monthTicks = ["2021-05-01", "2021-09-01", "2022-01-01", "2022-05-01", "2022-09-01", "2023-01-01", "2023-05-01", "2023-09-01", "2024-01-01", "2024-05-01"];

// ---------------- build ----------------
document.getElementById("title").textContent = titleText;
document.getElementById("footer").textContent = footerText;
document.getElementById("logo").textContent = logoText;
const legendLefts = [80.5, 543.5];
const legend = document.getElementById("legend");
seriesNames.forEach((name, i) => {
  const item = document.createElement("div");
  item.className = "legend-item";
  item.style.left = legendLefts[i] + "px";
  const dot = document.createElement("span");
  dot.className = "dot";
  dot.style.background = seriesColors[i];
  const label = document.createElement("span");
  label.className = "label";
  label.textContent = name;
  item.appendChild(dot);
  item.appendChild(label);
  legend.appendChild(item);
});

const t0 = new Date(startDate + "T00:00:00Z");
const toDate = d => d3.utcDay.offset(t0, d);
const priceToBalance = d3.scaleLinear(priceDomain, balanceDomain);
const usdt = usdtSeries.map(([d, v]) => ({date: toDate(d), value: v}));
const btc = btcSeries.map(([d, v]) => ({date: toDate(d), value: priceToBalance(v)}));
const xDomain = [toDate(0), toDate(endDay)];

const chart = Plot.plot({
  width: 1800,
  height: 800,
  marginTop: 35,
  marginBottom: 65,
  marginLeft: 111,
  marginRight: 120,
  style: {fontFamily: "Inter, 'Noto Sans', sans-serif", fontSize: "16px", color: "#3a3a3a", background: "transparent", overflow: "visible"},
  x: {type: "utc", domain: xDomain, label: null},
  y: {domain: balanceDomain, label: null},
  marks: [
    Plot.ruleY(gridLines, {stroke: "#e8e8e8", strokeWidth: 1}),
    Plot.axisX(monthTicks.map(d => new Date(d + "T00:00:00Z")), {
      anchor: "bottom", tickSize: 13, tickPadding: 13, stroke: "#e4e4e4",
      tickFormat: d3.utcFormat("%b '%y"), label: null, fontSize: 16
    }),
    Plot.ruleY([0], {stroke: "#dedede", strokeWidth: 2}),
    Plot.axisY(balanceTicks, {
      anchor: "left", tickSize: 0, tickPadding: 24, dy: -11, label: null, fontSize: 16,
      tickFormat: d => d === 0 ? "0" : d + "B"
    }),
    Plot.axisY(priceTicks.map(priceToBalance), {
      anchor: "right", tickSize: 0, tickPadding: 22, dy: -11, label: null, fontSize: 16,
      tickFormat: d => "$" + Math.round(priceToBalance.invert(d)) + "k"
    }),
    Plot.ruleX([xDomain[0]], {stroke: "#ea9cc7", strokeWidth: 1.5}),
    Plot.ruleX([xDomain[1]], {stroke: "#fbc98b", strokeWidth: 1.5}),
    Plot.line(usdt, {x: "date", y: "value", stroke: seriesColors[0], strokeWidth: 2.6, strokeLinejoin: "round"}),
    Plot.line(btc, {x: "date", y: "value", stroke: seriesColors[1], strokeWidth: 2.6, strokeLinejoin: "round"})
  ]
});
document.getElementById("chart").appendChild(chart);
</script>
</body>
</html>
